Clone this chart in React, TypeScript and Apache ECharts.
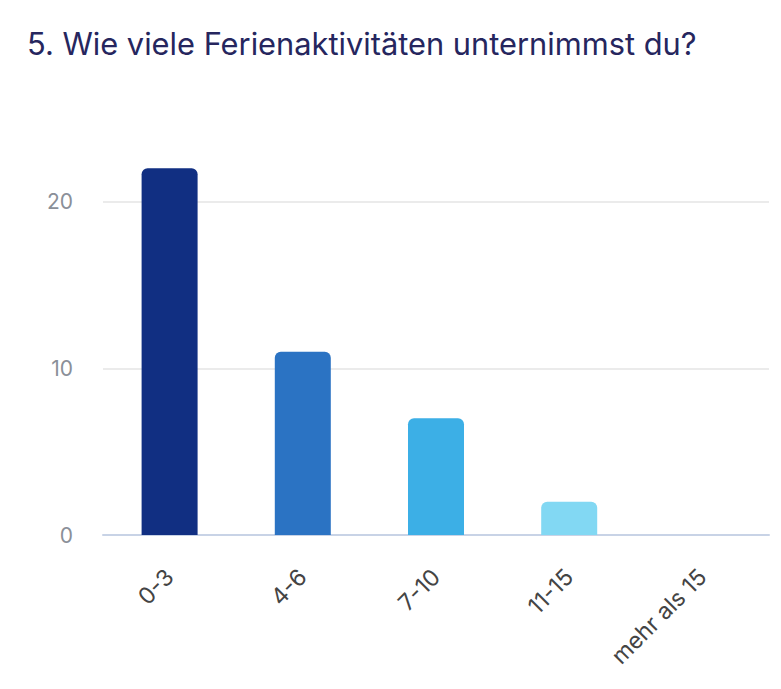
import React, { useEffect, useRef } from "react";
import * as echarts from "echarts";

const titleText = "5. Wie viele Ferienaktivitäten unternimmst du?";
const categories = ["0-3", "4-6", "7-10", "11-15", "mehr als 15"];
const values = [22, 11, 7, 2, 0];
const barColors = ["#112f82", "#2b73c3", "#3cafe6", "#82d8f3", "#b5e8f8"];

export default function App() {
  const ref = useRef<HTMLDivElement>(null);
  useEffect(() => {
    if (!ref.current) return;
    const chart = echarts.init(ref.current, undefined, { renderer: "svg" });
    chart.setOption({
      animation: false,
      title: {
        text: titleText,
        left: 14,
        top: 15,
        textStyle: {
          fontFamily: "Inter",
          fontSize: 30.8,
          fontWeight: "normal",
          color: "#26265e",
        },
      },
      grid: { left: 95, right: 4, top: 127, bottom: 146, containLabel: false },
      xAxis: {
        type: "category",
        data: categories,
        axisTick: { show: false },
        axisLine: { lineStyle: { color: "#c8d3e6", width: 2 } },
        axisLabel: {
          rotate: 45,
          margin: 38,
          fontFamily: "Inter",
          fontSize: 23,
          color: "#444444",
          interval: 0,
        },
      },
      yAxis: {
        type: "value",
        min: 0,
        max: 24,
        interval: 10,
        axisLine: { show: false },
        axisTick: { show: false },
        axisLabel: {
          showMaxLabel: false,
          margin: 30,
          fontFamily: "Inter",
          fontSize: 21,
          color: "#8a8f98",
        },
        splitLine: {
          showMaxLine: false,
          lineStyle: { color: "#e4e4e4", width: 1.5 },
        },
      },
      series: [
        {
          type: "bar",
          barWidth: 56,
          data: values.map((v, i) => ({
            value: v,
            itemStyle: { color: barColors[i], borderRadius: [6, 6, 0, 0] },
          })),
        },
      ],
    });
    return () => chart.dispose();
  }, []);
  return <div ref={ref} style={{ width: 765, height: 673 }} />;
}
